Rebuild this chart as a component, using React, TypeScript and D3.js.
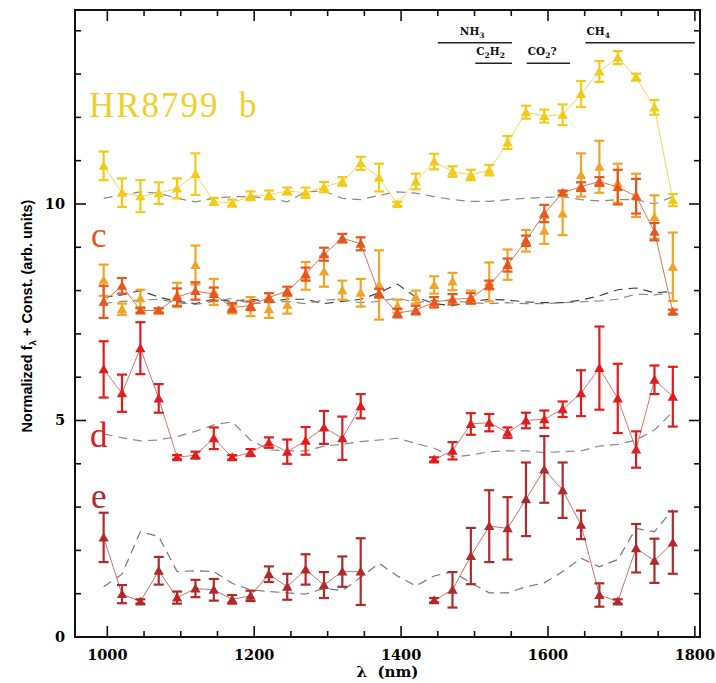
import { useEffect, useRef } from 'react';
import * as d3 from 'd3';

// wavelength channels (nm)
const wavelengths = [995, 1020, 1045, 1070, 1095, 1120, 1145, 1170, 1195, 1220, 1245, 1270, 1295, 1320, 1345, 1370,
  1395, 1420, 1445, 1470, 1495, 1520, 1545, 1570, 1595, 1620, 1645, 1670, 1695, 1720, 1745, 1770];

const bFlux = [10.88, 10.26, 10.18, 10.25, 10.36, 10.69, 10.06, 10.02, 10.19, 10.21, 10.30, 10.26, 10.39, 10.52, 10.94, 10.61,
  10.00, 10.52, 10.98, 10.75, 10.67, 10.78, 11.42, 12.12, 12.03, 12.06, 12.54, 13.06, 13.38, 12.93, 12.23, 10.09];
const bErr = [0.33, 0.33, 0.37, 0.25, 0.23, 0.48, 0.08, 0.08, 0.10, 0.10, 0.08, 0.12, 0.12, 0.10, 0.15, 0.32,
  0.05, 0.18, 0.18, 0.12, 0.12, 0.12, 0.15, 0.15, 0.15, 0.24, 0.30, 0.24, 0.15, 0.08, 0.17, 0.14];
const bModel = [10.13, 10.21, 10.28, 10.25, 10.13, 10.05, 10.13, 10.17, 10.17, 10.13, 10.05, 10.28, 10.30, 10.13, 10.10, 10.20,
  10.28, 10.25, 10.17, 10.10, 10.06, 10.06, 10.10, 10.13, 10.15, 10.17, 10.10, 10.07, 10.10, 10.10, 10.00, 10.17];

const cFlux = [7.74, 8.11, 7.54, 7.54, 7.85, 7.99, 7.92, 7.61, 7.65, 7.84, 7.99, 8.38, 8.84, 9.21, 9.08, 7.94,
  7.48, 7.55, 7.73, 7.80, 7.82, 8.13, 8.59, 9.15, 9.78, 10.26, 10.40, 10.52, 10.39, 10.18, 9.36, 7.51];
const cErr = [0.37, 0.18, 0.05, 0.05, 0.20, 0.20, 0.15, 0.10, 0.10, 0.10, 0.10, 0.15, 0.15, 0.10, 0.15, 0.10,
  0.10, 0.10, 0.12, 0.12, 0.12, 0.10, 0.15, 0.12, 0.20, 0.05, 0.10, 0.10, 0.40, 0.40, 0.20, 0.05];
const cAltFlux = [8.24, 7.57, 7.82, 7.54, 7.90, 8.59, 7.97, 7.57, 7.63, 7.57, 7.67, 8.34, 8.44, 8.01, 7.95, 8.13,
  7.64, 7.85, 8.13, 8.21, 7.85, 8.20, 8.60, 9.15, 9.38, 9.78, 10.67, 10.86, 10.48, 10.20, 9.70, 8.55];
const cAltErr = [0.36, 0.13, 0.20, 0.05, 0.28, 0.45, 0.30, 0.10, 0.22, 0.20, 0.20, 0.32, 0.35, 0.22, 0.32, 0.80,
  0.15, 0.15, 0.20, 0.20, 0.15, 0.45, 0.35, 0.25, 0.30, 0.50, 0.50, 0.60, 0.45, 0.50, 0.50, 0.79];
const cModel1 = [7.85, 7.90, 8.00, 7.85, 7.75, 7.70, 7.80, 7.75, 7.80, 7.75, 7.80, 7.80, 7.70, 7.75, 7.80, 7.95,
  8.15, 7.85, 7.70, 7.65, 7.75, 7.80, 7.78, 7.74, 7.72, 7.72, 7.78, 7.88, 8.02, 8.06, 7.95, 7.98];
const cModel2 = [7.70, 7.75, 7.78, 7.80, 7.72, 7.68, 7.75, 7.82, 7.70, 7.72, 7.75, 7.70, 7.78, 7.80, 7.72, 7.75,
  7.83, 7.72, 7.78, 7.76, 7.72, 7.70, 7.72, 7.70, 7.70, 7.72, 7.74, 7.76, 7.80, 7.92, 7.90, 7.95];

const dFlux = [6.18, 5.63, 6.67, 5.51, 4.15, 4.20, 4.59, 4.15, 4.26, 4.49, 4.28, 4.53, 4.84, 4.59, 5.33, null,
  null, null, 4.10, 4.30, 4.92, 4.95, 4.72, 5.00, 5.03, 5.26, 5.63, 6.21, 5.51, 4.33, 5.94, 5.55];
const dErr = [0.65, 0.43, 0.60, 0.33, 0.05, 0.08, 0.25, 0.05, 0.08, 0.12, 0.28, 0.32, 0.38, 0.50, 0.28, null,
  null, null, 0.05, 0.20, 0.25, 0.20, 0.12, 0.18, 0.20, 0.18, 0.53, 0.96, 0.80, 0.42, 0.33, 0.69];
const dModel = [4.69, 4.60, 4.53, 4.55, 4.63, 4.75, 4.90, 4.97, 4.55, 4.32, 4.30, 4.30, 4.41, 4.45, 4.51, 4.55,
  4.59, 4.47, 4.36, 4.16, 4.20, 4.28, 4.30, 4.30, 4.26, 4.28, 4.30, 4.41, 4.45, 4.55, 4.78, 5.20];

const eFlux = [2.30, 0.99, 0.82, 1.53, 0.91, 1.12, 1.09, 0.87, 0.95, 1.45, 1.16, 1.56, 1.20, 1.51, 1.51, null,
  null, null, 0.85, 1.09, 1.87, 2.56, 2.51, 3.18, 3.87, 3.39, 2.59, 0.97, 0.82, 2.05, 1.76, 2.18];
const eErr = [0.57, 0.21, 0.05, 0.32, 0.14, 0.20, 0.25, 0.10, 0.12, 0.18, 0.30, 0.35, 0.30, 0.35, 0.77, null,
  null, null, 0.05, 0.41, 0.65, 0.83, 0.72, 0.85, 0.77, 0.64, 0.33, 0.27, 0.05, 0.56, 0.51, 0.72];
const eModel = [1.16, 1.45, 2.43, 2.32, 1.51, 1.53, 1.51, 1.24, 1.09, 1.05, 1.02, 0.99, 1.12, 1.07, 1.38, 1.70,
  1.41, 1.18, 1.41, 1.51, 1.25, 1.02, 1.02, 1.16, 1.25, 1.51, 1.82, 1.62, 1.79, 2.51, 2.43, 2.95];

const xTicks = [1000, 1200, 1400, 1600, 1800];
const yTicks = [0, 5, 10];

// molecular bands: text parts (subscript flag), start nm, end nm, row
const bands = [
  { parts: [['NH', false], ['3', true]], from: 1450, to: 1551, row: 0 },
  { parts: [['C', false], ['2', true], ['H', false], ['2', true]], from: 1501, to: 1551, row: 1 },
  { parts: [['CO', false], ['2', true], ['?', false]], from: 1571, to: 1630, row: 1 },
  { parts: [['CH', false], ['4', true]], from: 1651, to: 1800, row: 0 },
];

const App = () => {
  const svgRef = useRef<SVGSVGElement>(null);

  useEffect(() => {
    const width = 716;
    const height = 683;
    const plot = { left: 75, right: 700, top: 10, bottom: 637 };

    const svg = d3.select(svgRef.current);
    svg.selectAll('*').remove();

    const x = d3.scaleLinear().domain([956, 1807]).range([plot.left, plot.right]);
    const y = d3.scaleLinear().domain([0, 14.48]).range([plot.bottom, plot.top]);

    const rows = (vals: (number | null)[], errs?: (number | null)[]) =>
      wavelengths.map((w, i) => ({ w, v: vals[i], e: errs ? errs[i] : 0 }));

    const line = d3.line<{ w: number; v: number | null }>()
      .defined(d => d.v != null)
      .x(d => x(d.w))
      .y(d => y(d.v as number));

    // models (dashed)
    const models = [
      { vals: bModel, color: '#8a8a8a' },
      { vals: cModel1, color: '#444' },
      { vals: cModel2, color: '#8a8a8a' },
      { vals: dModel, color: '#8a8a8a' },
      { vals: eModel, color: '#777' },
    ];
    models.forEach(m => {
      svg.append('path')
        .datum(rows(m.vals))
        .attr('d', line)
        .attr('fill', 'none')
        .attr('stroke', m.color)
        .attr('stroke-width', 1.2)
        .attr('stroke-dasharray', '9,6');
    });

    const series = [
      { vals: cAltFlux, errs: cAltErr, color: '#f0a528', lineColor: null },
      { vals: bFlux, errs: bErr, color: '#f2cb18', lineColor: '#f4d858' },
      { vals: cFlux, errs: cErr, color: '#e8561e', lineColor: '#d77850' },
      { vals: dFlux, errs: dErr, color: '#e01c1c', lineColor: '#e07070' },
      { vals: eFlux, errs: eErr, color: '#b02a2a', lineColor: '#c87070' },
    ];
    const tri = d3.symbol().type(d3.symbolTriangle).size(46);

    series.forEach(s => {
      const data = rows(s.vals, s.errs);
      const pts = data.filter(d => d.v != null);
      const g = svg.append('g');
      if (s.lineColor) {
        g.append('path')
          .datum(data)
          .attr('d', line)
          .attr('fill', 'none')
          .attr('stroke', s.lineColor)
          .attr('stroke-width', 1);
      }
      const eb = g.append('g').attr('stroke', s.color).attr('stroke-width', 2.2);
      pts.forEach(d => {
        const cx = x(d.w);
        const y1 = y((d.v as number) + (d.e as number));
        const y0 = y((d.v as number) - (d.e as number));
        eb.append('line').attr('x1', cx).attr('x2', cx).attr('y1', y1).attr('y2', y0);
        eb.append('line').attr('x1', cx - 5).attr('x2', cx + 5).attr('y1', y1).attr('y2', y1);
        eb.append('line').attr('x1', cx - 5).attr('x2', cx + 5).attr('y1', y0).attr('y2', y0);
      });
      g.selectAll('path.pt')
        .data(pts)
        .join('path')
        .attr('class', 'pt')
        .attr('d', tri)
        .attr('transform', d => `translate(${x(d.w)},${y(d.v as number) + 1})`)
        .attr('fill', s.color);
    });

    // frame
    svg.append('rect')
      .attr('x', plot.left).attr('y', plot.top)
      .attr('width', plot.right - plot.left).attr('height', plot.bottom - plot.top)
      .attr('fill', 'none').attr('stroke', '#111').attr('stroke-width', 2);

    // ticks on all sides, pointing in
    const axes = svg.append('g').attr('stroke', '#111').attr('stroke-width', 1.6);
    d3.range(1000, 1801, 50).forEach(t => {
      const len = t % 200 === 0 ? 11 : 6;
      axes.append('line').attr('x1', x(t)).attr('x2', x(t)).attr('y1', plot.bottom).attr('y2', plot.bottom - len);
      axes.append('line').attr('x1', x(t)).attr('x2', x(t)).attr('y1', plot.top).attr('y2', plot.top + len);
    });
    d3.range(0, 15, 1).forEach(t => {
      const len = t % 5 === 0 ? 11 : 6;
      axes.append('line').attr('x1', plot.left).attr('x2', plot.left + len).attr('y1', y(t)).attr('y2', y(t));
      axes.append('line').attr('x1', plot.right).attr('x2', plot.right - len).attr('y1', y(t)).attr('y2', y(t));
    });

    const tickFont = "'DejaVu Serif', serif";
    svg.append('g')
      .selectAll('text')
      .data(xTicks)
      .join('text')
      .attr('x', d => x(d))
      .attr('y', plot.bottom + 23)
      .attr('text-anchor', 'middle')
      .attr('font-family', tickFont)
      .attr('font-weight', 'bold')
      .attr('font-size', 14.5)
      .text(d => d);
    svg.append('g')
      .selectAll('text')
      .data(yTicks)
      .join('text')
      .attr('x', plot.left - 10)
      .attr('y', d => y(d) + 5)
      .attr('text-anchor', 'end')
      .attr('font-family', tickFont)
      .attr('font-weight', 'bold')
      .attr('font-size', 14.5)
      .text(d => d);

    svg.append('text')
      .attr('x', (plot.left + plot.right) / 2)
      .attr('y', 677)
      .attr('text-anchor', 'middle')
      .attr('font-family', tickFont)
      .attr('font-weight', 'bold')
      .attr('font-size', 15)
      .attr('xml:space', 'preserve')
      .text('λ  (nm)');

    const yl = svg.append('text')
      .attr('transform', `translate(32,316) rotate(-90)`)
      .attr('text-anchor', 'middle')
      .attr('font-family', "'Liberation Sans', Arial, sans-serif")
      .attr('font-weight', 'bold')
      .attr('font-size', 14.5);
    yl.append('tspan').text('Normalized f');
    yl.append('tspan').attr('font-size', 9.5).attr('dy', 4).text('λ');
    yl.append('tspan').attr('dy', -4).text(' + Const. (arb. units)');

    // band annotations
    bands.forEach(b => {
      const ly = b.row === 0 ? 42.7 : 63.3;
      svg.append('line')
        .attr('x1', x(b.from)).attr('x2', x(b.to))
        .attr('y1', ly).attr('y2', ly)
        .attr('stroke', '#222').attr('stroke-width', 1.6);
      const tx = b.row === 0 && b.from < 1500 ? x(b.from) + 22 : x(b.from) + 1;
      const t = svg.append('text')
        .attr('x', tx)
        .attr('y', ly - 8)
        .attr('font-family', tickFont)
        .attr('font-weight', 'bold')
        .attr('font-size', 10.5)
        .attr('fill', '#111');
      b.parts.forEach(([s, sub], i) => {
        const prevSub = i > 0 && b.parts[i - 1][1];
        const dy = sub ? 3 : prevSub ? -3 : 0;
        t.append('tspan').attr('dy', dy).attr('font-size', sub ? 7.5 : 10.5).text(s as string);
      });
    });

    // planet labels
    const labels = [
      { text: 'HR8799', x: 89, y: 117, color: '#f2cf2e' },
      { text: 'b', x: 239, y: 117, color: '#f2cf2e' },
      { text: 'c', x: 91, y: 247, color: '#e8561e' },
      { text: 'd', x: 90, y: 447, color: '#e01c1c' },
      { text: 'e', x: 91, y: 508, color: '#b02a2a' },
    ];
    svg.append('g')
      .selectAll('text')
      .data(labels)
      .join('text')
      .attr('x', d => d.x)
      .attr('y', d => d.y)
      .attr('font-family', "'Liberation Serif', 'Times New Roman', serif")
      .attr('font-size', 35)
      .attr('letter-spacing', 2)
      .attr('fill', d => d.color)
      .text(d => d.text);

    svg.attr('width', width).attr('height', height);
  }, []);

  return (
    <svg
      ref={svgRef}
      style={{ position: 'absolute', left: 0, top: 0, background: '#fff' }}
    ></svg>
  );
};

export default App;
